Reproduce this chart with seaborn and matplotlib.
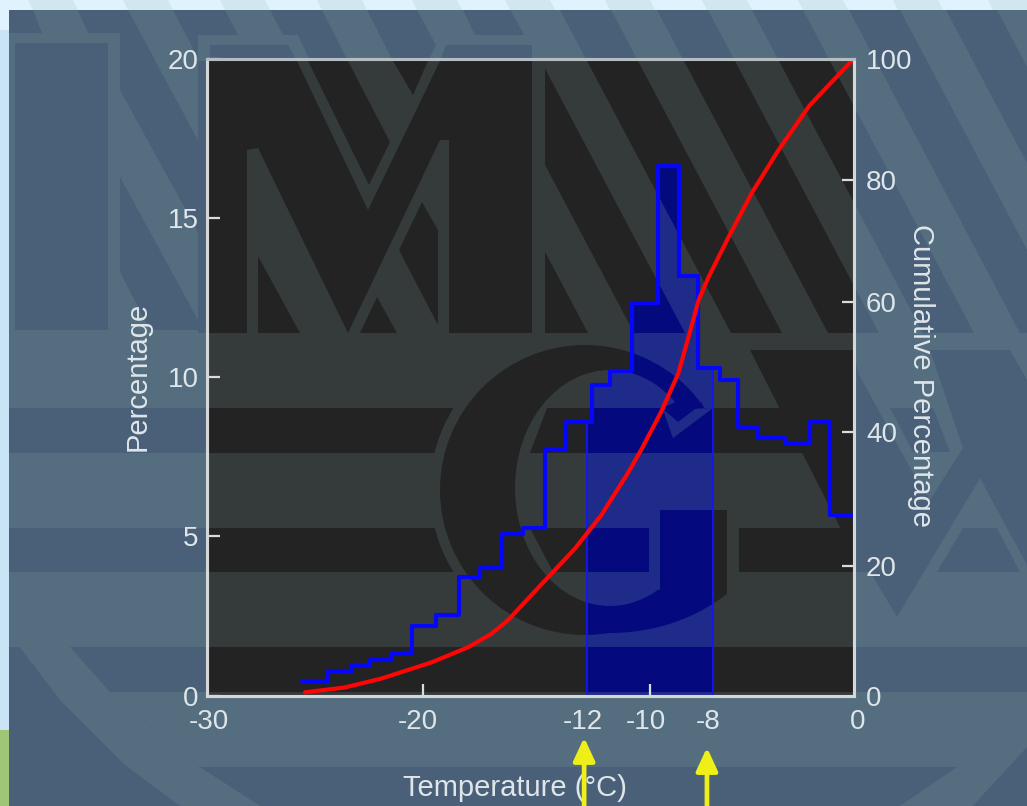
import numpy as np
import pandas as pd
import matplotlib
matplotlib.use("Agg")
import matplotlib.pyplot as plt
import seaborn as sns
from matplotlib.patches import Polygon, Rectangle, Ellipse, Circle, PathPatch
from matplotlib.path import Path
from matplotlib.transforms import Bbox, ScaledTranslation

# ---------- data ----------
bin_edges = [-25.59, -24.38, -23.27, -22.43, -21.45, -20.48, -19.37, -18.30, -17.32,
             -16.30, -15.32, -14.30, -13.33, -12.12, -11.28, -10.26, -9.06, -8.08,
             -7.20, -6.18, -5.34, -4.41, -3.20, -2.04, -1.07, 0.0]
percentages = [0.47, 0.76, 0.97, 1.13, 1.33, 2.17, 2.52, 3.72, 4.02, 5.06, 5.25, 7.76,
               8.60, 9.75, 10.20, 12.33, 16.63, 13.17, 10.28, 9.90, 8.43, 8.10, 7.93,
               8.60, 5.66]
curve_temp = [-25.45, -23.60, -21.90, -19.58, -17.87, -16.80, -16.01, -15.08, -12.92,
              -11.71, -10.46, -9.85, -8.92, -8.13, -7.52, -7.19, -6.73, -5.80, -4.73,
              -3.48, -2.04, 0.0]
curve_cum = [0.5, 1.26, 2.67, 5.2, 7.6, 9.7, 11.9, 15.3, 23.1, 28.3, 35.0, 38.6, 44.6,
             50.6, 58.0, 62.1, 65.7, 72.0, 78.9, 85.7, 92.7, 100.0]
left_ticks = [0, 5, 10, 15, 20]
right_tick_pos = [0, 20.3, 41.4, 61.8, 81.0, 100]
right_tick_labels = ["0", "20", "40", "60", "80", "100"]
x_tick_pos = [-30, -20, -12.55, -9.42, -6.73, 0]
x_tick_labels = ["-30", "-20", "-12", "-10", "-8", "0"]
x_label_shift_px = [2, -5, 0, -5, 0, 4]
shade_lo, shade_hi = -12.35, -6.50
arrow_x = [-12.50, -6.80]
arrow_tip = [-0.066, -0.0818]

W, H = 1027, 806
AX_L, AX_R, AX_T, AX_B = 207, 853.5, 59, 695.5

sns.set_theme(style="white")
plt.rcParams["font.family"] = ["Liberation Sans", "DejaVu Sans"]
TXT = "#dfe6ea"
FS_TICK = 20
FS_LABEL = 21

fig = plt.figure(figsize=(W / 100, H / 100), dpi=100, facecolor="#e0f2fd")
bg = fig.add_axes([0, 0, 1, 1], zorder=0)
bg.set_xlim(0, W); bg.set_ylim(H, 0); bg.axis("off")


def draw_pattern(dark, light, clip=None):
    """Watermark logo behind the chart, drawn in pixel coordinates."""

    def add(p):
        bg.add_patch(p)
        if clip is not None:
            if isinstance(clip, tuple):
                p.set_clip_path(clip[0], clip[1])
            else:
                p.set_clip_path(clip)

    def poly(pts, c):
        add(Polygon(pts, closed=True, fc=c, ec="none"))

    def rect(x0, y0, x1, y1, c):
        add(Rectangle((x0, y0), x1 - x0, y1 - y0, fc=c, ec="none"))

    rect(9, 10, W, H, dark)
    # top zone: light field with dark diagonal stripes on the right
    rect(532, 45, W, 333, light)
    rect(545, 10, W, 333, light)
    bb = Bbox([[545, 10], [W, 333]])
    for x0 in [393, 490, 587, 684, 779, 876, 973, 1070, 1167]:
        x1 = x0 + 51
        pts = [(x0 - 27, 10), (x1 - 27, 10), (x1 + 144, 333), (x0 + 144, 333), (x0 - 27, 10)]
        add(PathPatch(Path(pts, closed=True).clip_to_bbox(bb), fc=dark, ec="none"))
    # horizontal bands
    rect(9, 333, W, 408, light)
    rect(9, 453, W, 528, light)
    rect(18, 528, W, 572, dark)
    rect(9, 572, W, 647, light)
    poly([(110, 692), (W, 692), (W, 767), (200, 767)], light)
    # big arc, lower left
    poly([(9, 572), (70, 647), (110, 692), (200, 767), (260, 806), (180, 806),
          (125, 765), (60, 700), (9, 633)], light)
    poly([(957, 767), (W, 767), (W, 747), (973, 806), (900, 806)], light)
    poly([(W, 747), (W, 806), (973, 806)], dark)
    # left letter block
    rect(9, 33, 120, 333, light)
    rect(15, 43, 108, 330, dark)
    rect(120, 60, 198, 333, light)
    poly([(80, 10), (128, 10), (198, 140), (198, 232), (120, 90), (120, 33), (88, 33)], dark)
    poly([(120, 177), (198, 320), (198, 330), (150, 330), (120, 272)], dark)
    poly([(33, 10), (78, 10), (88, 33), (42, 33)], light)
    poly([(128, 10), (173, 10), (198, 58), (198, 140)], light)
    # top frame and stripes above the plot
    rect(198, 35, 298, 45, light)
    rect(198, 45, 210, 61, light)
    poly([(225, 10), (270, 10), (283, 35), (238, 35)], light)
    poly([(283, 35), (298, 35), (310, 61), (297, 61)], light)
    poly([(322, 10), (367, 10), (393, 61), (348, 61)], light)
    poly([(417, 10), (463, 10), (475, 35), (532, 35), (532, 45), (446, 45), (440, 61),
          (428, 61), (436, 45)], light)
    poly([(510, 10), (545, 10), (545, 45), (530, 45)], light)
    # "M" letter
    poly([(247, 333), (247, 150), (258, 148), (348, 333), (300, 333), (258, 256), (258, 333)], light)
    poly([(348, 333), (440, 140), (449, 140), (449, 333), (397, 333), (377, 297), (360, 333)], light)
    poly([(399, 250), (422, 202), (438, 230), (438, 325)], dark)
    poly([(297, 61), (393, 61), (413, 95), (428, 61), (440, 61), (368, 210)], light)
    poly([(308, 61), (348, 61), (390, 142), (369, 185)], dark)
    # G letter halo
    add(Circle((585, 490), 155, fc=light, ec="none"))
    add(Ellipse((610, 490), 360, 306, fc=light, ec="none"))
    # right diagonal block
    poly([(750, 350), (W, 350), (W, 528), (843, 528), (853, 553)], dark)
    rect(1010, 333, W, 350, light)
    poly([(1010, 350), (W, 350), (W, 380)], light)
    # chevron right of the plot
    poly([(853, 345), (930, 350), (963, 448), (930, 500), (913, 473), (858, 373)], light)
    poly([(890, 408), (933, 408), (950, 452), (913, 452)], dark)
    # triangles right of the plot
    poly([(853, 543), (897, 617), (925, 572), (853, 572)], dark)
    poly([(980, 478), (W, 565), (W, 600), (897, 617)], light)
    poly([(963, 528), (997, 528), (1020, 572), (937, 572)], dark)
    # G letter crescent and counter
    add(Circle((585, 490), 145, fc=dark, ec="none"))
    ts = np.linspace(0.14, np.pi - 0.14, 90)
    pts = [(min(610 + 170 * np.cos(t), 727), 490 + 143 * np.sin(t)) for t in ts]
    poly(pts, dark)
    add(Ellipse((610, 488), 190, 236, fc=light, ec="none"))
    rect(690, 453, 745, 510, light)
    # bars crossing the counter
    poly([(547, 408), (769, 408), (792, 453), (530, 453)], dark)
    poly([(663, 410), (673, 438), (713, 408)], light)
    poly([(678, 422), (703, 403), (680, 400), (662, 408)], dark)
    poly([(530, 528), (649, 528), (649, 572), (553, 572)], dark)
    rect(649, 500, 660, 590, light)
    rect(727, 500, 739, 572, light)
    rect(660, 500, 739, 510, light)
    poly([(660, 510), (727, 510), (727, 585), (700, 600), (660, 612)], dark)
    poly([(739, 528), (834, 528), (853, 562), (853, 572), (739, 572)], dark)


# outer picture border
for x0 in [33, 128, 225, 322, 417, 510, 610, 707, 803, 898, 993]:
    bg.add_patch(Polygon([(x0 - 5, 0), (x0 + 40, 0), (x0 + 45, 10), (x0, 10)], fc="#d2e6f0", ec="none"))
bg.add_patch(Rectangle((0, 30), 9, 700, fc="#c9e4f4", ec="none"))
bg.add_patch(Rectangle((0, 730), 9, 76, fc="#9fc676", ec="none"))

draw_pattern("#4a5f78", "#546e80")
plot_clip = Rectangle((AX_L, AX_T), AX_R - AX_L, AX_B - AX_T, transform=bg.transData)
draw_pattern("#232323", "#353b3b", clip=plot_clip)

# ---------- main axes ----------
ax = fig.add_axes([AX_L / W, 1 - AX_B / H, (AX_R - AX_L) / W, (AX_B - AX_T) / H], zorder=2)
ax.patch.set_alpha(0)
ax.set_xlim(-30, 0)
ax.set_ylim(0, 20)

edges = np.array(bin_edges)
vals = np.array(percentages)
centers = (edges[:-1] + edges[1:]) / 2
hist_df = pd.DataFrame({"temperature": centers, "percentage": vals})

# shaded part of the histogram
sx = np.r_[shade_lo, edges[(edges > shade_lo) & (edges < shade_hi)], shade_hi]
sy = vals[np.searchsorted(edges, sx, side="right") - 1]
shade = ax.fill_between(sx, 0, sy, step="post", facecolor="none", edgecolor="none")
shade_path = shade.get_paths()[0]
draw_pattern("#040a7d", "#1f2b88", clip=(shade_path, ax.transData))
ax.vlines([shade_lo, shade_hi], 0, [sy[0], sy[-1]], colors="#1414ff", lw=1.3, zorder=2)

sns.histplot(data=hist_df, x="temperature", weights="percentage", bins=bin_edges,
             element="step", fill=False, color="#0606fa", linewidth=3.0, ax=ax, zorder=3)
ax.set_xlim(-30, 0)
ax.set_ylim(0, 20)
ax.set_yticks(left_ticks)
ax.set_yticklabels([str(v) for v in left_ticks])
ax.set_xticks(x_tick_pos)
ax.set_xticklabels(x_tick_labels)
ax.set_xlabel("Temperature (°C)", fontsize=FS_LABEL, color=TXT, va="center")
ax.xaxis.set_label_coords((515 - AX_L) / (AX_R - AX_L), (AX_B - 788) / (AX_B - AX_T))
ax.set_ylabel("Percentage", fontsize=FS_LABEL, color=TXT, va="center")
ax.yaxis.set_label_coords((138 - AX_L) / (AX_R - AX_L), (AX_B - 376) / (AX_B - AX_T))
ax.tick_params(axis="both", which="major", direction="in", length=9, width=1.6,
               color="#d8dcdc", labelcolor=TXT, labelsize=FS_TICK, bottom=True, left=True)
ax.tick_params(axis="x", pad=10)
ax.tick_params(axis="y", pad=6)
for t, lab, dx in zip(ax.xaxis.get_major_ticks(), x_tick_labels, x_label_shift_px):
    if lab not in ("-20", "-10"):
        t.tick1line.set_visible(False)
    t.label1.set_transform(t.label1.get_transform() + ScaledTranslation(dx / 100, 0, fig.dpi_scale_trans))
for t, v in zip(ax.yaxis.get_major_ticks(), left_ticks):
    if v in (0, 20):
        t.tick1line.set_visible(False)

# ---------- cumulative axis ----------
ax2 = ax.twinx()
ax2.set_zorder(3)
ax2.patch.set_alpha(0)
curve_df = pd.DataFrame({"temperature": curve_temp, "cumulative": curve_cum})
sns.lineplot(data=curve_df, x="temperature", y="cumulative", color="#ff0505",
             linewidth=3.0, ax=ax2, estimator=None, sort=False)
ax2.set_xlim(-30, 0)
ax2.set_ylim(0, 100)
ax2.set_yticks(right_tick_pos)
ax2.set_yticklabels(right_tick_labels)
ax2.set_ylabel("Cumulative Percentage", fontsize=FS_LABEL, color=TXT, rotation=270, va="center")
ax2.yaxis.set_label_coords((921 - AX_L) / (AX_R - AX_L), (AX_B - 376) / (AX_B - AX_T))
ax2.tick_params(axis="y", direction="in", length=9, width=1.6, color="#d8dcdc",
                labelcolor=TXT, labelsize=FS_TICK, pad=9, right=True)
for t, lab in zip(ax2.yaxis.get_major_ticks(), right_tick_labels):
    if lab in ("0", "100"):
        t.tick2line.set_visible(False)

for a in (ax, ax2):
    for name, sp in a.spines.items():
        sp.set_visible(True)
        sp.set_linewidth(2.2)
        sp.set_color("#b4bec2" if name == "top" else "#d4d8d8")

# ---------- yellow arrows ----------
for xp, tip in zip(arrow_x, arrow_tip):
    ax2.annotate("", xy=(xp, tip), xycoords=ax2.get_xaxis_transform(),
                 xytext=(xp, -0.18), textcoords=ax2.get_xaxis_transform(),
                 arrowprops=dict(arrowstyle="-|>,head_length=14,head_width=6.5",
                                 mutation_scale=1, lw=3.4, color="#eeee18",
                                 shrinkA=0, shrinkB=0), annotation_clip=False, zorder=6)

fig.savefig("out.png", dpi=100, facecolor=fig.get_facecolor())
